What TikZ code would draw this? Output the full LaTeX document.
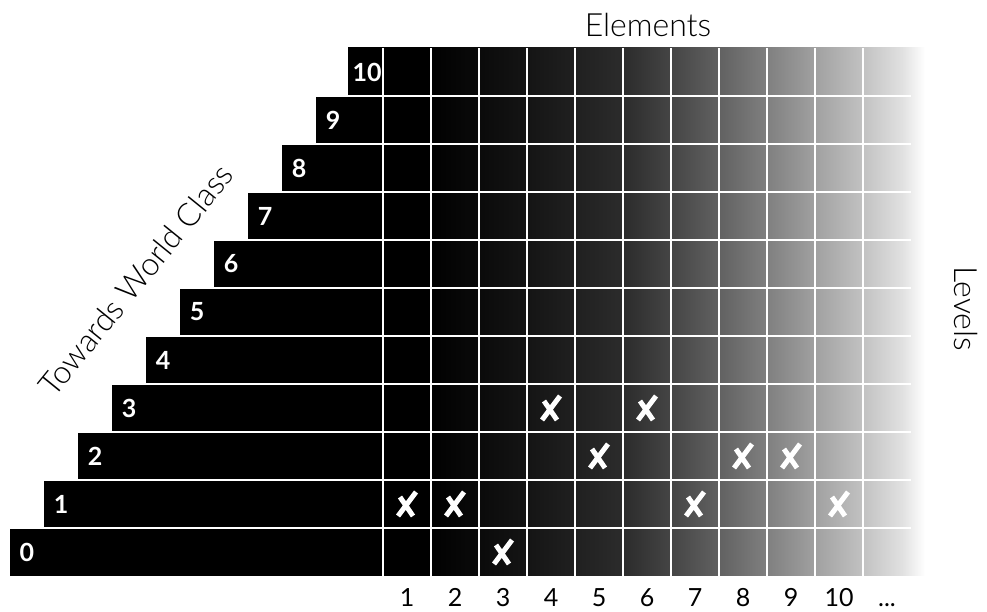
\documentclass[tikz,border=0pt]{standalone}
\usepackage{fontspec}
\setmainfont{Lato}
\IfFontExistsTF{Lato Light}{\newfontfamily\lightfont{Lato Light}}{\newfontfamily\lightfont{Lato}}
\usepackage{tikz}

\pgfdeclarehorizontalshading{levelfade}{100bp}{color(0bp)=(black); color(32bp)=(black); color(40.5bp)=(black!92); color(48.8bp)=(black!83); color(53bp)=(black!73); color(57.1bp)=(black!62); color(61.3bp)=(black!50); color(65.5bp)=(black!37); color(69.6bp)=(black!24); color(73bp)=(black!12); color(75bp)=(white); color(100bp)=(white)}

\tikzset{
  levelbar/.style={fill=black},
  gridline/.style={white, line width=1.6pt},
  barnum/.style={text=white, font=\bfseries\fontsize{25}{25}\selectfont, inner sep=0pt},
  colnum/.style={font=\fontsize{25}{25}\selectfont, inner sep=0pt, anchor=base},
  heading/.style={font=\lightfont\fontsize{32}{32}\selectfont, inner sep=0pt},
  xmark/.pic={\draw[white, line width=5pt] (-9,-12) -- (9,12) (-7,7) -- (6,-12);}
}

\begin{document}
\begin{tikzpicture}[x=1pt, y=1pt]
\useasboundingbox (0,0) rectangle (987,612);
\shade[shading=levelfade] (348,36) rectangle (925,564);
\foreach \i in {0,...,10}
  \fill[levelbar] ({10+34*\i},{36+48*\i}) rectangle (383,{84+48*\i});
\foreach \i in {1,...,10}
  \draw[gridline] ({10+34*(\i-1)},{36+48*\i}) -- (911,{36+48*\i});
\foreach \k in {0,...,10}
  \draw[gridline] ({383+48*\k},36) -- ({383+48*\k},564);

\foreach \i in {0,...,10}
  \node[barnum] (lvl-\i) at ({27+34*\i},{60+48*\i}) {\i};
\foreach \j in {1,...,10}
  \node[colnum] (el-\j) at ({359+48*\j},5) {\j};
\node[colnum] (el-more) at (887,5) {...};

\node[heading, anchor=base] (elements) at (648,575) {Elements};
\node[heading, rotate=-90] (levels) at (966,303) {Levels};
\node[heading, rotate=51] (towards) at (136,332) {Towards World Class};

\foreach \j/\i in {1/1,2/1,3/0,4/3,5/2,6/3,7/1,8/2,9/2,10/1}
  \pic at ({359+48*\j},{60+48*\i}) {xmark};
\end{tikzpicture}
\end{document}
